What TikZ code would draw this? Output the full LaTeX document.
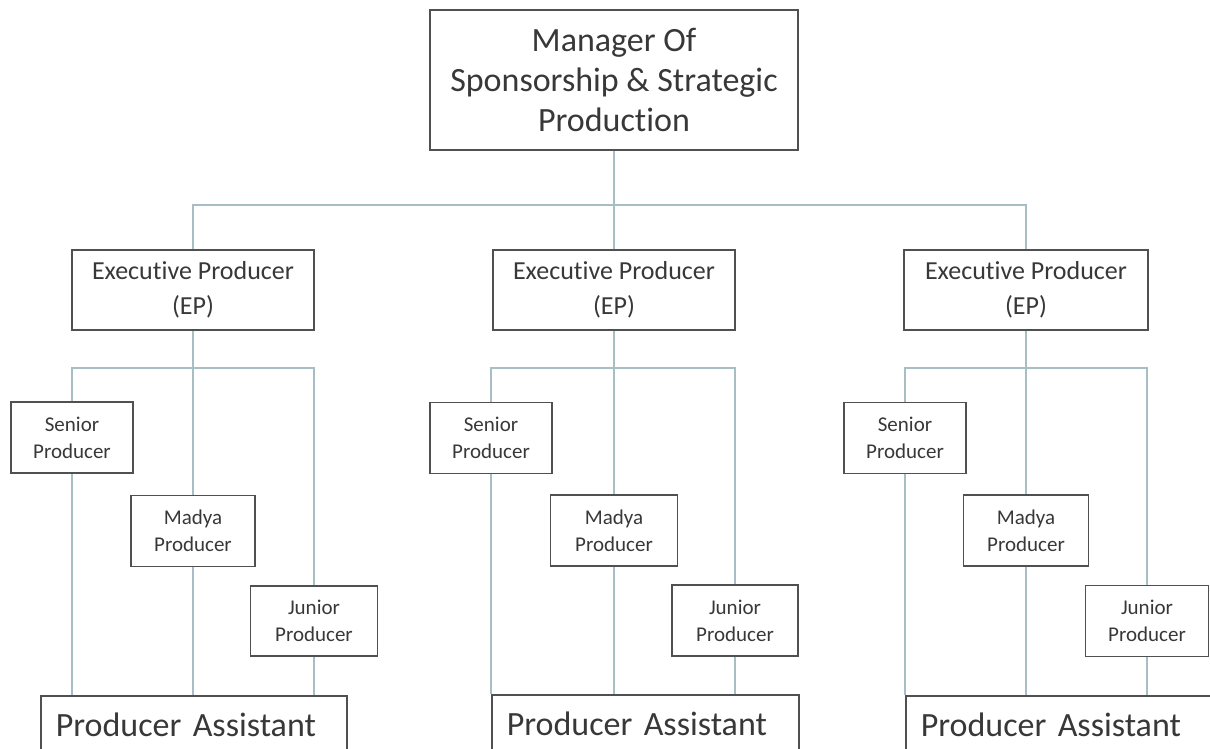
\documentclass[tikz,border=0pt]{standalone}
\usepackage{fontspec}
\setmainfont{Carlito}[RawFeature={-liga;-clig;-calt}]
\definecolor{linkc}{HTML}{A7BEC4}
\definecolor{boxc}{HTML}{505050}
\definecolor{txtc}{HTML}{383838}
\begin{document}
\begin{tikzpicture}[x=1pt,y=-1pt,
		post/.style={draw=boxc, line width=1.5pt, text=txtc, align=center, inner sep=0pt},
		small/.style={post, minimum height=71pt, font=\fontsize{21}{27}\selectfont},
		assist/.style={post, anchor=north west, minimum height=58pt, inner xsep=15pt, align=left, font=\fontsize{34}{40}\selectfont},
		link/.style={draw=linkc, line width=1.2pt}]
	\useasboundingbox (0,0) rectangle (1210,748);
	\clip (0,0) rectangle (1210,748);
	% top
	\node[post, minimum width=368pt, minimum height=140pt, font=\fontsize{34}{40}\selectfont] (mgr) at (614,80) {Manager Of\\Sponsorship \& Strategic\\Production};
	\node[post, minimum width=242pt, minimum height=80pt, font=\fontsize{26}{35}\selectfont] (ep1) at (193,290) {Executive Producer\\(EP)};
	\node[post, minimum width=242pt, minimum height=80pt, font=\fontsize{26}{35}\selectfont] (ep2) at (614,290) {Executive Producer\\(EP)};
	\node[post, minimum width=244pt, minimum height=80pt, font=\fontsize{26}{35}\selectfont] (ep3) at (1026,290) {Executive Producer\\(EP)};
	\coordinate (topbus) at (614,205);
	\draw[link] (mgr.south) -- (topbus);
	\draw[link] (ep1.north) |- (topbus) -| (ep3.north);
	\draw[link] (ep2.north) -- (ep2.north |- topbus);
	% group 1
	\node[small, minimum width=122pt] (sen1) at (72,437.5) {Senior\\Producer};
	\node[small, minimum width=124pt] (mad1) at (193,531) {Madya\\Producer};
	\node[small, minimum width=127pt, minimum height=70pt] (jun1) at (314,621) {Junior\\Producer};
	\node[assist, text width=276pt] (pa1) at (40,695) {Producer Assistant};
	\coordinate (bus1) at (193,368);
	\draw[link] (ep1.south) -- (mad1.north);
	\draw[link] (sen1.north) |- (bus1) -| (jun1.north);
	\draw[link] (sen1.south) -- (sen1.south |- pa1.north);
	\draw[link] (mad1.south) -- (mad1.south |- pa1.north);
	\draw[link] (jun1.south) -- (jun1.south |- pa1.north);
	% group 2
	\node[small, minimum width=122pt] (sen2) at (491,438) {Senior\\Producer};
	\node[small, minimum width=127pt] (mad2) at (614,530.5) {Madya\\Producer};
	\node[small, minimum width=126pt] (jun2) at (735,620.5) {Junior\\Producer};
	\node[assist, text width=277pt] (pa2) at (491,694) {Producer Assistant};
	\coordinate (bus2) at (614,368);
	\draw[link] (ep2.south) -- (mad2.north);
	\draw[link] (sen2.north) |- (bus2) -| (jun2.north);
	\draw[link] (sen2.south) -- (sen2.south |- pa2.north);
	\draw[link] (mad2.south) -- (mad2.south |- pa2.north);
	\draw[link] (jun2.south) -- (jun2.south |- pa2.north);
	% group 3
	\node[small, minimum width=122pt] (sen3) at (905,438) {Senior\\Producer};
	\node[small, minimum width=125pt] (mad3) at (1026,530.5) {Madya\\Producer};
	\node[small, minimum width=123pt] (jun3) at (1147,621) {Junior\\Producer};
	\node[assist, text width=280pt] (pa3) at (905,695) {Producer Assistant};
	\coordinate (bus3) at (1026,368);
	\draw[link] (ep3.south) -- (mad3.north);
	\draw[link] (sen3.north) |- (bus3) -| (jun3.north);
	\draw[link] (sen3.south) -- (sen3.south |- pa3.north);
	\draw[link] (mad3.south) -- (mad3.south |- pa3.north);
	\draw[link] (jun3.south) -- (jun3.south |- pa3.north);
\end{tikzpicture}
\end{document}
